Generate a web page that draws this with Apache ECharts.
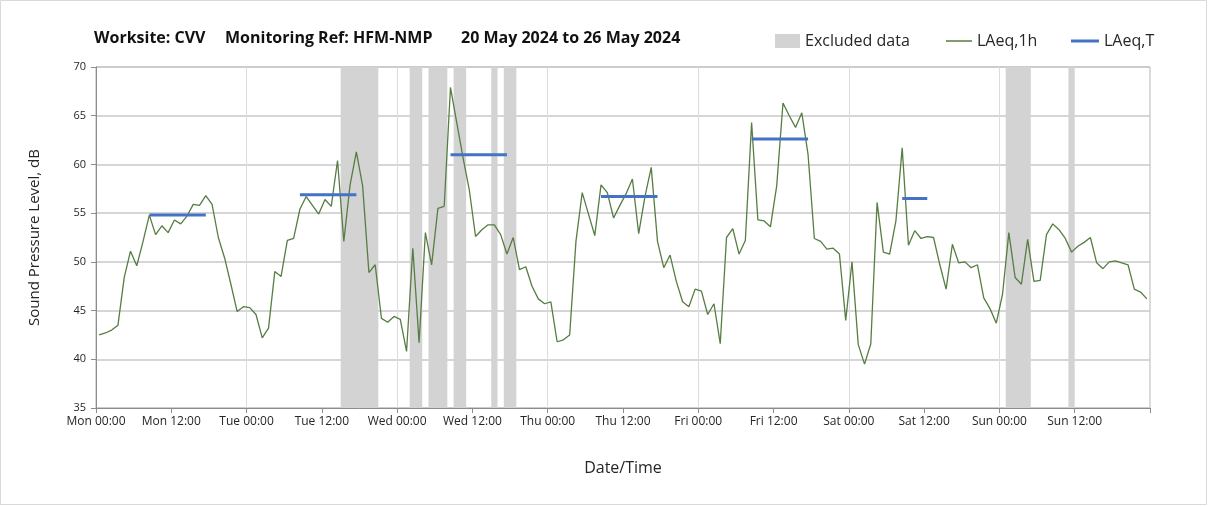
<!DOCTYPE html>
<html><head><meta charset="utf-8">
<script src="https://cdn.jsdelivr.net/npm/echarts@6/dist/echarts.min.js"></script>
<style>html,body{margin:0;padding:0;background:#fff}#c{width:1208px;height:506px}</style>
</head><body><div id="c"></div>
<script>
// ---- data ----
const dayNames = ['Mon','Tue','Wed','Thu','Fri','Sat','Sun'];
const titleParts = ['Worksite: CVV', 'Monitoring Ref: HFM-NMP', '20 May 2024 to 26 May 2024'];
// hourly LAeq,1h from Mon 00:00 (168 hours)
const laeq1h = [
  42.5,42.7,43.0,43.5,48.4,51.1,49.6,52.1,54.8,52.8,53.7,53.0,54.3,53.9,54.7,55.9,55.8,56.8,55.9,52.5,50.4,47.7,44.9,45.4,
  45.3,44.6,42.2,43.2,49.0,48.5,52.2,52.4,55.4,56.7,55.8,54.9,56.4,55.7,60.4,52.1,57.9,61.3,57.8,48.9,49.7,44.2,43.8,44.4,
  44.1,40.8,51.4,41.7,53.0,49.7,55.5,55.7,67.9,64.3,60.7,57.4,52.6,53.3,53.8,53.8,52.8,50.8,52.5,49.2,49.5,47.5,46.2,45.7,
  45.9,41.8,42.0,42.5,52.1,57.1,54.9,52.7,57.9,57.1,54.5,55.8,57.0,58.5,52.9,56.7,59.7,52.1,49.4,50.7,48.0,45.9,45.4,47.2,
  47.0,44.6,45.7,41.6,52.5,53.4,50.8,52.2,64.3,54.3,54.2,53.6,57.8,66.3,65.0,63.8,65.3,61.0,52.4,52.1,51.3,51.4,50.8,44.0,
  50.0,41.5,39.5,41.6,56.1,51.0,50.8,54.2,61.7,51.7,53.2,52.4,52.6,52.5,49.7,47.2,51.8,49.9,50.0,49.4,49.7,46.3,45.2,43.7,
  46.7,53.0,48.4,47.7,52.3,48.0,48.1,52.8,53.9,53.3,52.4,51.0,51.6,52.0,52.5,49.9,49.3,50.0,50.1,49.9,49.7,47.2,46.9,46.2
];
// excluded periods, hours from Mon 00:00
const excludedStart = [39, 50, 53, 57, 63, 65, 145, 155];
const excludedEnd   = [45, 52, 56, 59, 64, 67, 149, 156];
// LAeq,T daytime periods (hours from Mon 00:00, plotted at hour midpoints)
const laeqTStart = [8.5, 32.5, 56.5, 80.5, 104.5, 128.5];
const laeqTEnd   = [17.5, 41.5, 65.5, 89.5, 113.5, 132.5];
const laeqTValue = [54.8, 56.9, 61.0, 56.7, 62.6, 56.5];
const yTicks = [35, 40, 45, 50, 55, 60, 65, 70];

// ---- chart ----
const FONT = 'Open Sans';
const TXT = '#262626';
const GREEN = '#567d42';
const BLUE = '#4472C4';
const chart = echarts.init(document.getElementById('c'), null, {renderer: 'canvas'});

const hourlyPoints = laeq1h.map((v, i) => [i + 0.5, v]);
const laeqTSeries = laeqTValue.map((v, k) => ({
  name: 'LAeq,T', type: 'line', xAxisIndex: 0, yAxisIndex: 0,
  data: [[laeqTStart[k], v], [laeqTEnd[k], v]],
  symbol: 'none', lineStyle: {color: BLUE, width: 3}, itemStyle: {color: BLUE},
  z: 4, silent: true, animation: false
}));

const titleFont = 'bold 16px "Open Sans"';
const option = {
  backgroundColor: '#fff',
  animation: false,
  textStyle: {fontFamily: FONT},
  graphic: [
    {type: 'text', left: 94, top: 30, style: {text: titleParts[0], font: titleFont, fill: '#111'}},
    {type: 'text', left: 225, top: 30, style: {text: titleParts[1], font: titleFont, fill: '#111'}},
    {type: 'text', left: 461, top: 30, style: {text: titleParts[2], font: titleFont, fill: '#111'}},
    {type: 'rect', shape: {x: 0.5, y: 0.5, width: 1206, height: 504}, style: {fill: 'none', stroke: '#d9d9d9', lineWidth: 1}, silent: true, z: -10}
  ],
  legend: [
    {data: [{name: 'Excluded data', icon: 'rect'}], left: 775, top: 33, padding: 0, itemWidth: 25, itemHeight: 14, itemGap: 4,
     textStyle: {fontSize: 16, color: TXT, fontFamily: FONT}, selectedMode: false},
    {data: [{name: 'LAeq,1h', icon: 'rect'}], left: 946, top: 33, padding: 0, itemWidth: 26, itemHeight: 1.5,
     textStyle: {fontSize: 16, color: TXT, fontFamily: FONT}, selectedMode: false},
    {data: [{name: 'LAeq,T', icon: 'rect'}], left: 1071, top: 33, padding: 0, itemWidth: 28, itemHeight: 3,
     textStyle: {fontSize: 16, color: TXT, fontFamily: FONT}, selectedMode: false}
  ],
  grid: {left: 96, right: 58, top: 67, bottom: 98, show: true, borderColor: '#b0b0b0', borderWidth: 1, containLabel: false},
  xAxis: [
    {
      type: 'value', min: 0, max: 168, interval: 12,
      name: 'Date/Time', nameLocation: 'middle', nameGap: 52,
      nameTextStyle: {fontSize: 16, color: TXT, fontFamily: FONT},
      axisLine: {show: true, lineStyle: {color: '#8c8c8c', width: 1}},
      axisTick: {show: true, inside: false, length: 5, lineStyle: {color: '#8c8c8c'}},
      axisLabel: {
        fontSize: 12, color: TXT, margin: 8, fontFamily: FONT,
        formatter: v => v >= 168 ? '' : dayNames[Math.floor(v / 24)] + (v % 24 === 0 ? ' 00:00' : ' 12:00')
      },
      splitLine: {show: false}
    },
    {
      type: 'value', min: 0, max: 168, interval: 24, position: 'bottom',
      axisLine: {show: false}, axisTick: {show: false}, axisLabel: {show: false},
      splitLine: {show: true, lineStyle: {color: '#dcdcdc', width: 1}}
    }
  ],
  yAxis: {
    type: 'value', min: yTicks[0], max: yTicks[yTicks.length - 1], interval: 5,
    name: 'Sound Pressure Level, dB', nameLocation: 'middle', nameGap: 54, nameRotate: 90,
    nameTextStyle: {fontSize: 15, color: TXT, fontFamily: FONT},
    axisLine: {show: true, lineStyle: {color: '#8c8c8c', width: 1}},
    axisTick: {show: true, inside: false, length: 5, lineStyle: {color: '#8c8c8c'}},
    axisLabel: {fontSize: 11, color: TXT, margin: 10, fontFamily: FONT},
    splitLine: {show: true, lineStyle: {color: '#c8c8c8', width: 1.5}}
  },
  series: [
    {
      name: 'Excluded data', type: 'line', data: [], z: -1,
      itemStyle: {color: '#d3d3d3'}, lineStyle: {color: '#d3d3d3'}, symbol: 'none',
      markArea: {
        silent: true,
        itemStyle: {color: '#d3d3d3', opacity: 1},
        data: excludedStart.map((s, k) => [{xAxis: s}, {xAxis: excludedEnd[k]}])
      }
    },
    {
      name: 'LAeq,1h', type: 'line', data: hourlyPoints, symbol: 'none', showSymbol: false,
      lineStyle: {color: GREEN, width: 1.3}, itemStyle: {color: GREEN}, z: 3, silent: true
    },
    ...laeqTSeries
  ]
};
chart.setOption(option);
</script>
</body></html>
